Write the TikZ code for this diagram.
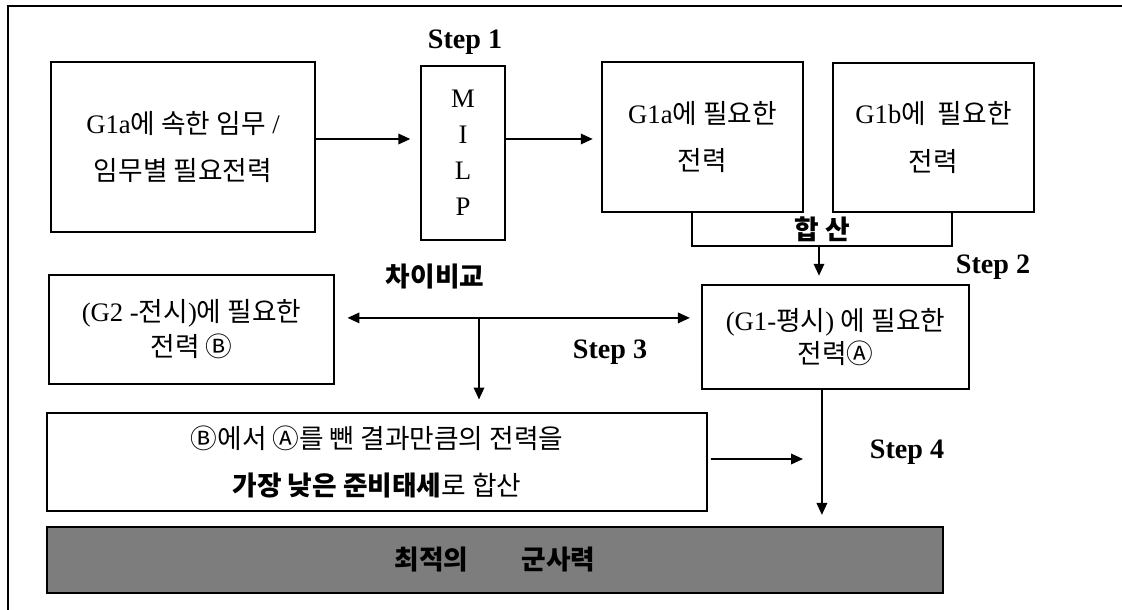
\documentclass[tikz,border=0pt]{standalone}
\usepackage{fontspec}
\setmainfont{Liberation Serif}
\newfontfamily\kr{Noto Sans CJK KR}
\usetikzlibrary{arrows.meta}
\definecolor{barg}{RGB}{125,125,125}

\begin{document}
\begin{tikzpicture}[x=0.025cm, y=-0.025cm,
  box/.style={draw, line width=1.2pt, inner sep=0pt, align=center, font=\fontsize{19}{34}\selectfont},
  steplbl/.style={font=\fontsize{20}{24}\selectfont\bfseries},
  arr/.style={line width=1.2pt, -{Triangle[length=8.5pt,width=7.5pt]}},
  dbl/.style={line width=1.2pt, {Triangle[length=8.5pt,width=7.5pt]}-{Triangle[length=8.5pt,width=7.5pt]}},
]
  \useasboundingbox (0,0) rectangle (1122,610);
  % --- frame ---
  \draw[line width=1.4pt] (8,610) -- (8,6) -- (1122,6);

  % --- step 1 ---
  \node[box, minimum width=6.6cm, minimum height=4.25cm] (task) at (183,147)
    {G1a{\kr 에 속한 임무} /\\{\kr 임무별 필요전력}};
  \node[box, minimum width=2.1cm, minimum height=4.35cm, font=\fontsize{19}{25.6}\selectfont] (milp) at (463,153)
    {M\\I\\L\\P};
  \node[box, minimum width=5.025cm, minimum height=3.75cm] (needa) at (702.5,137)
    {G1a{\kr 에 필요한}\\{\kr 전력}};
  \node[box, minimum width=5.025cm, minimum height=3.725cm] (needb) at (933.5,137.5)
    {G1b{\kr 에\ \ 필요한}\\{\kr 전력}};
  \node[minimum width=6.5cm, minimum height=0.85cm, inner sep=0pt, font=\fontsize{19}{22}\selectfont] (sum) at (822,229)
    {{\kr\bfseries 합 산}};
  \draw[line width=1.2pt] (sum.north west) -- (sum.south west) -- (sum.south east) -- (sum.north east);
  \node[steplbl] (s1) at (465,42) {Step 1};
  \draw[arr, shorten >=7pt] ([yshift=0.2cm]task.east) -- ([yshift=0.2cm]task.east -| milp.west);
  \draw[arr, shorten >=6pt] ([yshift=0.35cm]milp.east) -- ([yshift=0.35cm]milp.east -| needa.west);

  % --- step 2 ---
  \node[box, minimum width=6.675cm, minimum height=2.6cm, font=\fontsize{19}{23}\selectfont] (peace) at (835.5,337)
    {(G1-{\kr 평시}) {\kr 에 필요한}\\{\kr 전력Ⓐ}};
  \node[steplbl] (s2) at (993,267) {Step 2};
  \draw[arr, shorten >=6pt] ([xshift=-0.075cm]sum.south) -- ([xshift=-0.075cm]sum.south |- peace.north);

  % --- step 3 ---
  \node[box, minimum width=7.125cm, minimum height=2.725cm, font=\fontsize{19}{25}\selectfont] (war) at (191.5,329.5)
    {(G2 -{\kr 전시}){\kr 에 필요한}\\{\kr 전력 Ⓑ}};
  \node[font=\fontsize{19}{22}\selectfont\kr\bfseries] (cmp) at (435,277) {차이비교};
  \node[steplbl] (s3) at (610,352) {Step 3};
  \draw[dbl, shorten <=9pt, shorten >=8pt] ([yshift=0.29cm]war.east) -- ([yshift=0.29cm]war.east -| peace.west);
  \node[box, minimum width=16.5cm, minimum height=2.45cm, font=\fontsize{19}{33.4}\selectfont] (rest) at (377,462)
    {{\kr Ⓑ에서 Ⓐ를 뺀 결과만큼의 전력을}\\{\kr\bfseries 가장 낮은 준비태세}{\kr 로 합산}};
  \coordinate (split) at (479,318);
  \draw[arr, shorten >=9pt] (split) -- (split |- rest.north);

  % --- step 4 ---
  \node[box, fill=barg, minimum width=22.4cm, minimum height=1.65cm, font=\fontsize{19}{22}\selectfont] (best) at (495,560)
    {{\kr\bfseries 최적의\quad\quad 군사력}};
  \node[steplbl] (s4) at (907,452) {Step 4};
  \coordinate (merge) at (803,459);
  \draw[arr, shorten <=2pt] ([yshift=0.075cm]rest.east) -- (merge);
  \draw[arr, shorten >=8pt] ([xshift=-0.34cm]peace.south) -- ([xshift=-0.34cm]peace.south |- best.north);
\end{tikzpicture}
\end{document}
